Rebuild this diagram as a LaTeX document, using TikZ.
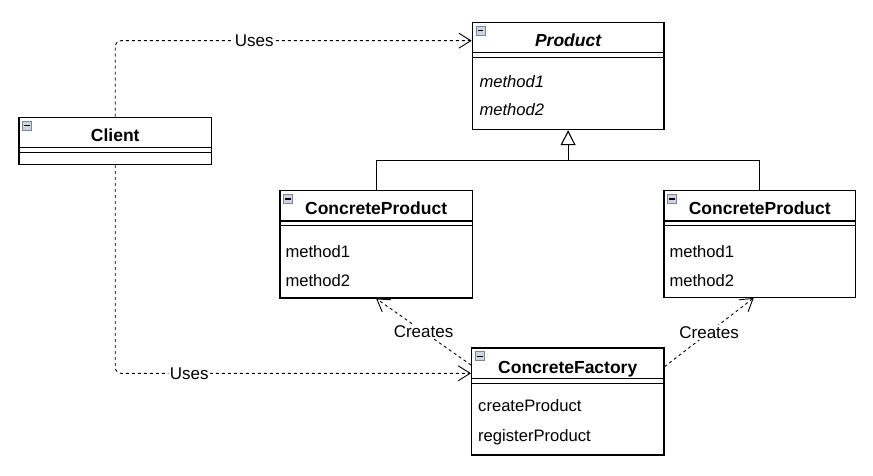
\documentclass[tikz,border=0pt]{standalone}
\usepackage{fontspec}
\setmainfont{Liberation Sans}
\usetikzlibrary{arrows.meta,calc}
\definecolor{iconborder}{RGB}{125,135,148}
\definecolor{iconfill}{RGB}{205,213,224}
\newcommand\umlicon[1]{%
  \begin{scope}[shift={#1}]
    \draw[draw=iconborder, fill=iconfill, line width=0.7pt] (0,0) rectangle (9,9);
    \draw[line width=1.3pt] (1.8,4.8) -- (7.2,4.8);
  \end{scope}}
\begin{document}
\begin{tikzpicture}[x=1pt,y=-1pt,
  cls/.style={draw=black, line width=1.2pt, anchor=north west, inner sep=0pt, minimum width=192pt},
  dbl/.style={line width=1.1pt},
  ttl/.style={anchor=base, font=\fontsize{17.5}{20}\selectfont\bfseries, inner sep=0pt},
  mth/.style={anchor=base west, font=\fontsize{16.6}{20}\selectfont, inner sep=0pt},
  lbl/.style={fill=white, inner sep=1.5pt, font=\fontsize{17}{20}\selectfont},
  dep/.style={line width=0.9pt, dash pattern=on 3pt off 3pt,
    -{Straight Barb[length=12pt,width=15pt,line width=0.9pt]}},
  inh/.style={line width=1.1pt},
]
\useasboundingbox (0,0) rectangle (873,476);

% Product
\node[cls, minimum width=191.6pt, minimum height=107.3pt] (prod) at (471.7,21.7) {};
\draw[dbl] ($(prod.north west)+(0,31)$) -- ($(prod.north east)+(0,31)$);
\draw[dbl] ($(prod.north west)+(0,36)$) -- ($(prod.north east)+(0,36)$);
\umlicon{($(prod.north west)+(4.3,4.3)$)}
\node[ttl] (prodt) at ($(prod.north)+(0,25.3)$) {\itshape Product};
\node[mth] (prodm1) at ($(prod.north west)+(7.6,66)$) {\itshape method1};
\node[mth] (prodm2) at ($(prod.north west)+(7.6,94.3)$) {\itshape method2};

% Client
\node[cls, minimum width=192.7pt, minimum height=47.3pt] (client) at (18.3,116.7) {};
\draw[dbl] ($(client.north west)+(0,31)$) -- ($(client.north east)+(0,31)$);
\draw[dbl] ($(client.north west)+(0,35.6)$) -- ($(client.north east)+(0,35.6)$);
\umlicon{($(client.north west)+(4.3,4.3)$)}
\node[ttl] (clientt) at ($(client.north)+(0,24.6)$) {Client};

% ConcreteProduct left
\node[cls, minimum width=192.4pt, minimum height=107.3pt] (cpl) at (279.3,190) {};
\draw[dbl] ($(cpl.north west)+(0,31)$) -- ($(cpl.north east)+(0,31)$);
\draw[dbl] ($(cpl.north west)+(0,35.7)$) -- ($(cpl.north east)+(0,35.7)$);
\umlicon{($(cpl.north west)+(4.3,4.3)$)}
\node[ttl] (cplt) at ($(cpl.north)+(0,24.6)$) {ConcreteProduct};
\node[mth] (cplm1) at ($(cpl.north west)+(6,67)$) {method1};
\node[mth] (cplm2) at ($(cpl.north west)+(6,96)$) {method2};

% ConcreteProduct right
\node[cls, minimum width=191.7pt, minimum height=106.7pt] (cpr) at (663.3,190) {};
\draw[dbl] ($(cpr.north west)+(0,31)$) -- ($(cpr.north east)+(0,31)$);
\draw[dbl] ($(cpr.north west)+(0,35.7)$) -- ($(cpr.north east)+(0,35.7)$);
\umlicon{($(cpr.north west)+(4.3,4.3)$)}
\node[ttl] (cprt) at ($(cpr.north)+(0,24.6)$) {ConcreteProduct};
\node[mth] (cprm1) at ($(cpr.north west)+(6,67)$) {method1};
\node[mth] (cprm2) at ($(cpr.north west)+(6,96)$) {method2};

% ConcreteFactory
\node[cls, minimum width=192.3pt, minimum height=107pt] (fac) at (471,347.3) {};
\draw[dbl] ($(fac.north west)+(0,31)$) -- ($(fac.north east)+(0,31)$);
\draw[dbl] ($(fac.north west)+(0,36)$) -- ($(fac.north east)+(0,36)$);
\umlicon{($(fac.north west)+(4.3,4.3)$)}
\node[ttl] (fact) at ($(fac.north)+(0,25.7)$) {ConcreteFactory};
\node[mth] (facm1) at ($(fac.north west)+(7,63.7)$) {createProduct};
\node[mth] (facm2) at ($(fac.north west)+(7,93.7)$) {registerProduct};

% Inheritance
\coordinate (junc) at ($(prod.south)+(0,30)$);
\draw[inh] (cpl.north) |- (junc) -| (cpr.north);
\draw[inh, -{Triangle[open, length=15pt, width=15pt, line width=1.1pt, fill=white]}] (junc) -- (prod.south);

% Dependencies
\draw[dep, rounded corners=6pt] (client.north) |- node[lbl, pos=0.695] (uses1) {Uses} ($(prod.north west)+(0,19)$);
\draw[dep, rounded corners=6pt] (client.south) |- node[lbl, pos=0.604] (uses2) {Uses} ($(fac.north west)+(0,26)$);
\draw[dep] ($(fac.north west)+(0,17.7)$) -- node[lbl] (cr1) {Creates} (cpl.south);
\draw[dep] ($(fac.north east)+(0,19.4)$) -- node[lbl] (cr2) {Creates} ($(cpr.south)+(-6,0)$);
\end{tikzpicture}
\end{document}
